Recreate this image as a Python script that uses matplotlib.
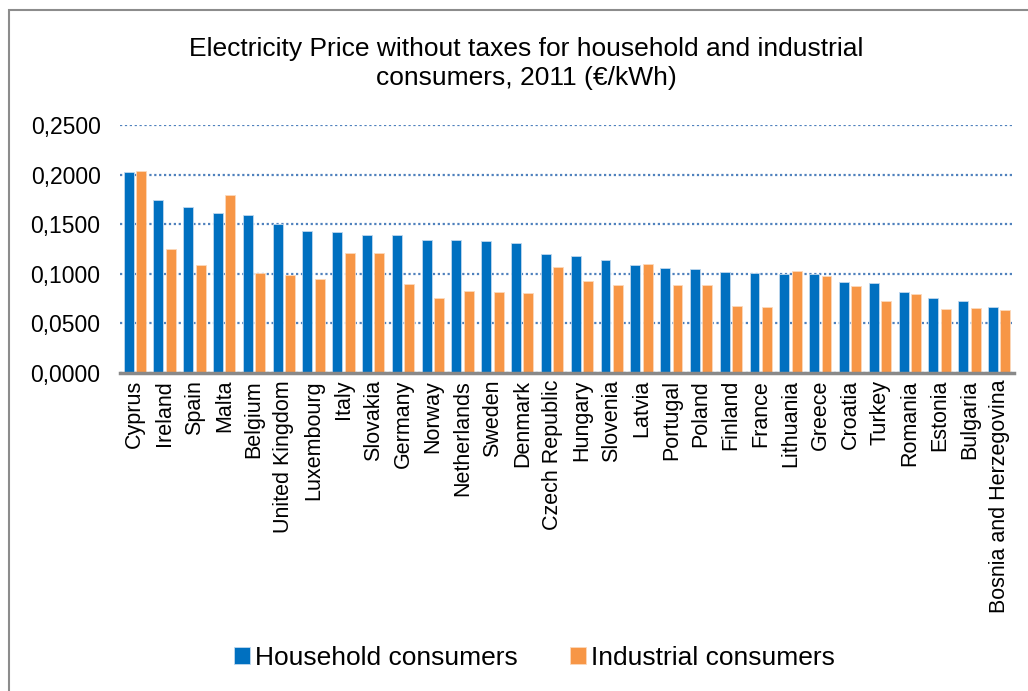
import matplotlib
matplotlib.use("Agg")
import matplotlib.pyplot as plt
import numpy as np
from matplotlib.patches import Rectangle
from matplotlib.ticker import FuncFormatter

plt.rcParams["font.family"] = ["Liberation Sans", "DejaVu Sans"]

countries = [
    "Cyprus", "Ireland", "Spain", "Malta", "Belgium", "United Kingdom", "Luxembourg",
    "Italy", "Slovakia", "Germany", "Norway", "Netherlands", "Sweden", "Denmark",
    "Czech Republic", "Hungary", "Slovenia", "Latvia", "Portugal", "Poland", "Finland",
    "France", "Lithuania", "Greece", "Croatia", "Turkey", "Romania", "Estonia",
    "Bulgaria", "Bosnia and Herzegovina",
]
household = [
    0.2030, 0.1747, 0.1676, 0.1610, 0.1590, 0.1500, 0.1428, 0.1418, 0.1391, 0.1388,
    0.1344, 0.1337, 0.1334, 0.1307, 0.1200, 0.1183, 0.1142, 0.1092, 0.1062, 0.1045,
    0.1018, 0.1008, 0.1001, 0.0998, 0.0917, 0.0910, 0.0817, 0.0756, 0.0722, 0.0665,
]
industrial = [
    0.2033, 0.1253, 0.1092, 0.1794, 0.1005, 0.0991, 0.0951, 0.1206, 0.1213, 0.0894,
    0.0759, 0.0823, 0.0817, 0.0803, 0.1065, 0.0927, 0.0884, 0.1096, 0.0887, 0.0887,
    0.0672, 0.0662, 0.1028, 0.0975, 0.0880, 0.0722, 0.0796, 0.0642, 0.0652, 0.0638,
]

BLUE = "#0070C0"
ORANGE = "#F79646"

fig = plt.figure(figsize=(10.28, 6.91), dpi=100)
ax = fig.add_axes([0.1167, 0.4602, 0.8697, 0.3589])

x = np.arange(len(countries))
w = 0.335
ax.bar(x - 0.208, household, w, color=BLUE, label="Household consumers",
       edgecolor="#BFD8EE", linewidth=0.6, zorder=3)
ax.bar(x + 0.208, industrial, w, color=ORANGE, label="Industrial consumers",
       edgecolor="#FCD9BC", linewidth=0.6, zorder=3)

ax.set_xlim(-0.5, len(countries) - 0.5)
ax.set_ylim(0, 0.25)
ax.set_yticks(np.arange(0, 0.2501, 0.05))
ax.yaxis.set_major_formatter(FuncFormatter(lambda v, p: f"{v:.4f}".replace(".", ",")))
ax.yaxis.grid(True, linestyle=(0, (1, 1.2)), color="#4F81BD", linewidth=1.6, zorder=0)
ax.set_xticks(x)
ax.set_xticklabels(countries, rotation=90, fontsize=15.5)
ax.tick_params(axis="y", length=0, pad=14, labelsize=16.5)
ax.tick_params(axis="x", length=0, pad=5)
for s in ["top", "right", "left"]:
    ax.spines[s].set_visible(False)
ax.spines["bottom"].set_color("#898989")
ax.spines["bottom"].set_linewidth(2.5)
ax.spines["bottom"].set_zorder(4)

fig.text(0.512, 0.908, "Electricity Price without taxes for household and industrial\nconsumers, 2011 (€/kWh)",
         ha="center", va="center", fontsize=19, linespacing=1.25)

fig.legend(loc="center", bbox_to_anchor=(0.52, 0.048), ncol=2, frameon=False,
           fontsize=19, handlelength=0.6, handleheight=0.6, handletextpad=0.2,
           columnspacing=2.0)

fig.patches.append(Rectangle((9 / 1028, -0.1), 1.2, (681 / 691) + 0.1,
                             transform=fig.transFigure, fill=False,
                             edgecolor="#8C8C8C", linewidth=1.5))

fig.savefig("out.png", dpi=100)
